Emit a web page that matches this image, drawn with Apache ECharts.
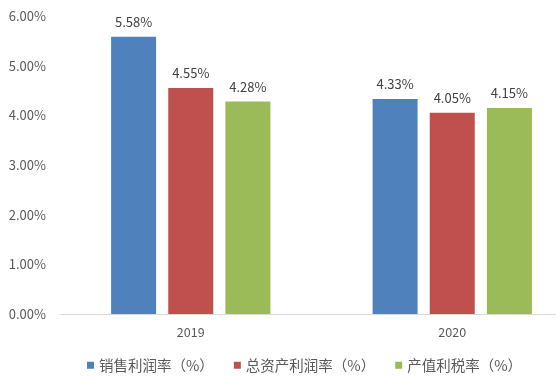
<!DOCTYPE html>
<html>
<head>
<meta charset="utf-8">
<script src="https://cdn.jsdelivr.net/npm/echarts@6/dist/echarts.min.js"></script>
<style>
  html, body { margin: 0; padding: 0; background: #fff; }
  #chart { width: 556px; height: 376px; }
</style>
</head>
<body>
<div id="chart"></div>
<script>
const years = ['2019', '2020']
const seriesNames = ['销售利润率（%）', '总资产利润率（%）', '产值利税率（%）']
const salesMargin = [5.58, 4.33]
const assetMargin = [4.55, 4.05]
const taxRate = [4.28, 4.15]
const colors = ['#4f81bd', '#c0504d', '#9bbb59']

const font = "'Noto Sans CJK SC', 'Noto Sans', sans-serif"
const chart = echarts.init(document.getElementById('chart'))

const seriesData = [salesMargin, assetMargin, taxRate]
const option = {
  animation: false,
  textStyle: { fontFamily: font },
  grid: {
    left: 60,
    top: 16,
    width: 523,
    bottom: 62,
    outerBoundsMode: 'none',
    containLabel: false
  },
  legend: {
    left: 82,
    top: 353,
    itemWidth: 7,
    itemHeight: 7,
    itemGap: 20,
    icon: 'rect',
    textStyle: { fontSize: 14.5, color: '#595959', fontFamily: font }
  },
  xAxis: {
    type: 'category',
    data: years,
    axisLine: { lineStyle: { color: '#d9d9d9', width: 1 } },
    axisTick: { show: false },
    axisLabel: { color: '#595959', fontSize: 12.5, margin: 12 }
  },
  yAxis: {
    type: 'value',
    min: 0,
    max: 6,
    interval: 1,
    splitLine: { show: false },
    axisLine: { show: false },
    axisTick: { show: false },
    axisLabel: {
      color: '#595959',
      fontSize: 13,
      margin: 14,
      formatter: function(v) {
        return v.toFixed(2) + '%'
      }
    }
  },
  series: seriesNames.map(function(name, i) {
    return {
      name: name,
      type: 'bar',
      data: seriesData[i],
      barWidth: 45,
      barGap: '27%',
      itemStyle: { color: colors[i] },
      label: {
        show: true,
        position: 'top',
        distance: 8,
        color: '#404040',
        fontSize: 13,
        formatter: function(p) {
          return p.value.toFixed(2) + '%'
        }
      }
    }
  })
}
chart.setOption(option)
</script>
</body>
</html>
